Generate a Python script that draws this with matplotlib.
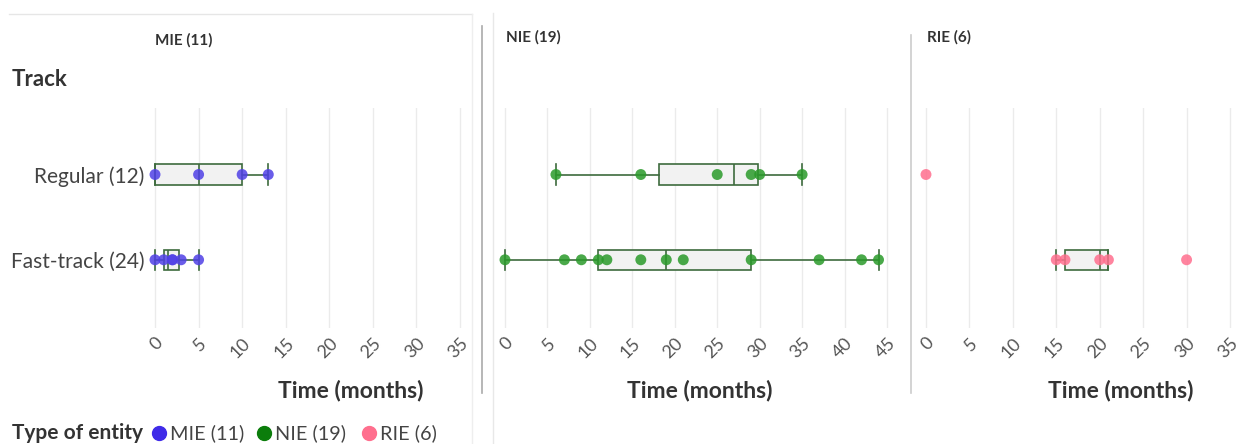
import matplotlib
matplotlib.use("Agg")
import matplotlib.pyplot as plt
from matplotlib.lines import Line2D

plt.rcParams['font.family'] = ['Lato', 'DejaVu Sans']

W, H = 1241, 444

# ---------------- data ----------------
panels = ["MIE (11)", "NIE (19)", "RIE (6)"]
tracks = ["Regular (12)", "Fast-track (24)"]
legend_labels = ["MIE (11)", "NIE (19)", "RIE (6)"]
point_colors = ["#5040e6", "#2a9a2a", "#ff6f8e"]
legend_colors = ["#3f2be8", "#0b7d0b", "#ff6f8e"]

# points per panel, per track (Regular, Fast-track)
mie_regular = [0, 5, 10, 13]
mie_fast = [0, 1, 2, 2, 3, 5]
nie_regular = [6, 16, 25, 29, 30, 35]
nie_fast = [0, 7, 9, 11, 12, 16, 19, 21, 29, 37, 42, 44]
rie_regular = [0]
rie_fast = [15, 16, 20, 21, 30]

# box statistics: (whislo, q1, med, q3, whishi); None = no box
mie_regular_box = [0, 0, 5, 10, 13]
mie_fast_box = [0, 1, 1.5, 2.75, 5]
nie_regular_box = [6, 18.2, 27, 29.8, 35]
nie_fast_box = [0, 11, 19, 29, 44]
rie_regular_box = None
rie_fast_box = [15, 16, 20, 21, 21]

x_ticks = [list(range(0, 40, 5)), list(range(0, 50, 5)), list(range(0, 40, 5))]
x_lims = [(-1, 36), (-1, 46), (-1, 36)]

points = [[mie_regular, mie_fast], [nie_regular, nie_fast], [rie_regular, rie_fast]]
boxes = [[mie_regular_box, mie_fast_box], [nie_regular_box, nie_fast_box],
         [rie_regular_box, rie_fast_box]]

# ---------------- layout helpers ----------------
def fx(x):
    return x / W

def fy(y):
    return 1 - y / H

fig = plt.figure(figsize=(W / 100, H / 100), dpi=100)

ax_px = [(146.3, 468.7), (496.5, 895.5), (917.3, 1238.7)]
ax_top, ax_bot = 108, 328

box_edge = "#3d6b3d"
tick_color = "#555555"
text_color = "#333333"

axes = []
for i in range(3):
    l, r = ax_px[i]
    ax = fig.add_axes([fx(l), fy(ax_bot), fx(r - l), (ax_bot - ax_top) / H])
    axes.append(ax)

    stats = []
    pos = []
    for j in range(2):
        b = boxes[i][j]
        if b is None:
            continue
        stats.append(dict(whislo=b[0], q1=b[1], med=b[2], q3=b[3], whishi=b[4],
                          fliers=[]))
        pos.append(j)
    ax.bxp(stats, positions=pos, orientation='horizontal', widths=0.235,
           capwidths=0.235, showfliers=False, patch_artist=True,
           boxprops=dict(facecolor='#f2f2f2', edgecolor=box_edge, linewidth=1.2),
           medianprops=dict(color=box_edge, linewidth=1.2),
           whiskerprops=dict(color=box_edge, linewidth=1.2),
           capprops=dict(color=box_edge, linewidth=1.2), zorder=2)
    for j in range(2):
        vals = points[i][j]
        ax.scatter(vals, [j] * len(vals), s=62, color=point_colors[i], alpha=0.85,
                   edgecolors='none', zorder=3, clip_on=False)

    ax.set_xlim(*x_lims[i])
    ax.set_ylim(1.8, -0.78)
    ax.set_xticks(x_ticks[i])
    ax.set_xticklabels([str(t) for t in x_ticks[i]], rotation=45, ha='right',
                       rotation_mode='anchor', fontsize=13, color=tick_color)
    ax.tick_params(axis='x', length=0, pad=5)
    ax.grid(axis='x', color='#ebebeb', linewidth=1)
    ax.grid(axis='y', visible=False)
    ax.set_axisbelow(True)
    for s in ax.spines.values():
        s.set_visible(False)
    ax.set_yticks([0, 1])
    if i == 0:
        ax.set_yticklabels(tracks, fontsize=15, color='#444444')
        ax.tick_params(axis='y', length=0, pad=1.5)
    else:
        ax.set_yticklabels([])
        ax.tick_params(axis='y', length=0)

# ---------------- text ----------------
fig.text(fx(184), fy(40), panels[0], fontsize=11, fontweight='bold', color=text_color,
         ha='center', va='center')
fig.text(fx(506), fy(37), panels[1], fontsize=11, fontweight='bold', color=text_color,
         ha='left', va='center')
fig.text(fx(927), fy(37), panels[2], fontsize=11, fontweight='bold', color=text_color,
         ha='left', va='center')
fig.text(fx(12), fy(80), "Track", fontsize=16, fontweight='bold', color=text_color,
         ha='left', va='center')
for cx in [351, 700, 1121]:
    fig.text(fx(cx), fy(390), "Time (months)", fontsize=16.5, fontweight='bold',
             color=text_color, ha='center', va='center')

# legend
fig.text(fx(12), fy(433), "Type of entity", fontsize=15, fontweight='bold',
         color=text_color, ha='left', va='center')
leg_x = [159, 264, 369]
for k in range(3):
    fig.add_artist(Line2D([fx(leg_x[k])], [fy(433)], marker='o', markersize=10,
                          color=legend_colors[k], linestyle='none'))
    fig.text(fx(leg_x[k] + 11), fy(433), legend_labels[k], fontsize=14.3,
             color='#444444', ha='left', va='center')

# ---------------- frame lines ----------------
fig.add_artist(Line2D([fx(9), fx(472)], [fy(14), fy(14)], color='#e6e6e6', lw=1))
fig.add_artist(Line2D([fx(472), fx(472)], [fy(14), fy(444)], color='#eeeeee', lw=1))
fig.add_artist(Line2D([fx(482), fx(482)], [fy(26), fy(393)], color='#aaaaaa', lw=1.2))
fig.add_artist(Line2D([fx(493), fx(493)], [fy(13), fy(444)], color='#e8e8e8', lw=1))
fig.add_artist(Line2D([fx(911), fx(911)], [fy(35), fy(393)], color='#cccccc', lw=1.2))

fig.savefig("out.png", dpi=100)
